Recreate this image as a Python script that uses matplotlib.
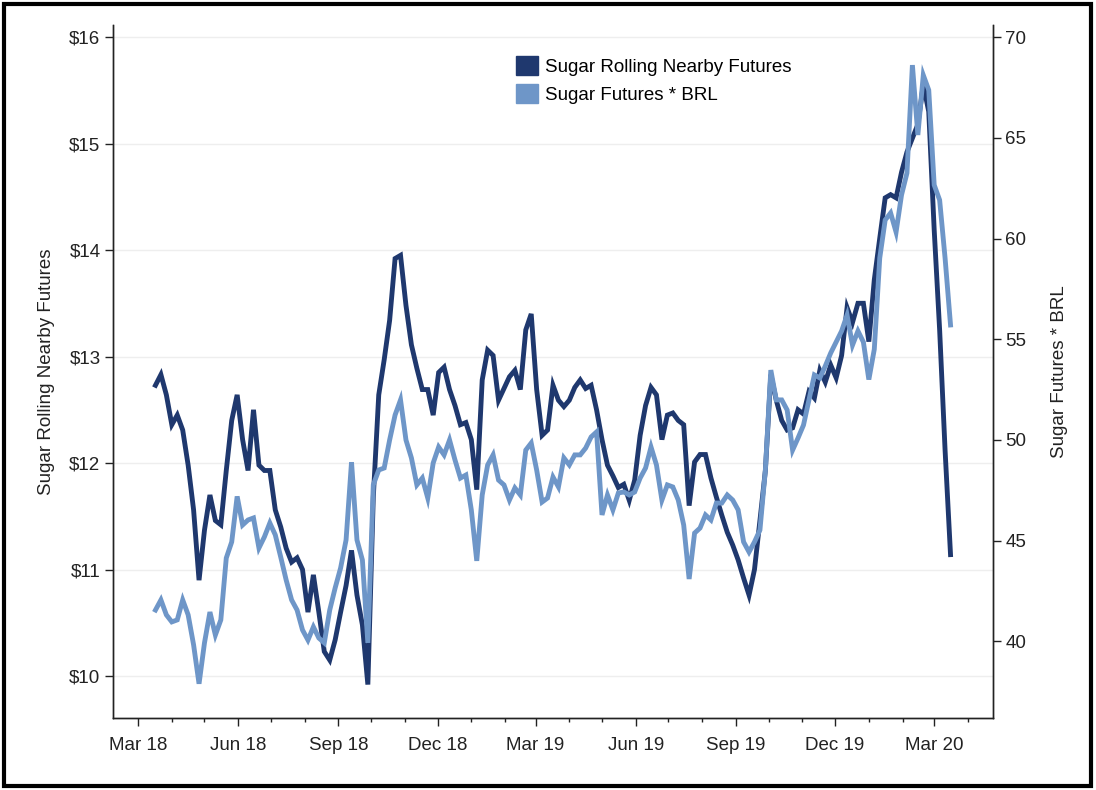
import matplotlib.pyplot as plt
import matplotlib.dates as mdates
from matplotlib.patches import Patch, Rectangle
from matplotlib.ticker import FuncFormatter, MultipleLocator
import pandas as pd

plt.rcParams['font.family'] = ['Liberation Sans', 'DejaVu Sans']

# 5-day sampling of the two series
dates = pd.date_range('2018-03-17', periods=147, freq='5D')

sugar_nearby = [
    12.73, 12.83, 12.64, 12.36, 12.45, 12.31, 11.98, 11.56, 10.90, 11.37,
    11.70, 11.46, 11.42, 11.93, 12.40, 12.64, 12.22, 11.93, 12.50, 11.98,
    11.93, 11.93, 11.56, 11.40, 11.20, 11.07, 11.11, 11.00, 10.60, 10.95,
    10.60, 10.23, 10.15, 10.34, 10.60, 10.85, 11.18, 10.76, 10.48, 9.92,
    11.68, 12.64, 12.97, 13.34, 13.92, 13.95, 13.48, 13.11, 12.89, 12.69,
    12.69, 12.45, 12.85, 12.90, 12.69, 12.54, 12.36, 12.38, 12.22, 11.75,
    12.78, 13.06, 13.01, 12.59, 12.70, 12.81, 12.87, 12.69, 13.25, 13.40,
    12.69, 12.26, 12.31, 12.73, 12.59, 12.53, 12.59, 12.71, 12.78, 12.70,
    12.73, 12.50, 12.22, 11.98, 11.88, 11.77, 11.80, 11.65, 11.84, 12.26,
    12.54, 12.71, 12.64, 12.22, 12.45, 12.47, 12.40, 12.36, 11.60, 12.01,
    12.08, 12.08, 11.86, 11.68, 11.51, 11.35, 11.23, 11.09, 10.92, 10.76,
    11.00, 11.46, 11.93, 12.83, 12.59, 12.40, 12.31, 12.33, 12.50, 12.46,
    12.67, 12.61, 12.87, 12.76, 12.92, 12.80, 13.01, 13.46, 13.32, 13.50,
    13.50, 13.14, 13.72, 14.11, 14.49, 14.52, 14.49, 14.73, 14.92, 15.05,
    15.18, 15.55, 15.30, 14.19, 13.25, 12.12, 11.14,
]

sugar_brl = [
    41.56, 42.06, 41.32, 40.97, 41.07, 42.06, 41.32, 39.83, 37.90, 39.93,
    41.46, 40.32, 41.07, 44.14, 44.94, 47.20, 45.78, 46.03, 46.13, 44.64,
    45.19, 45.88, 45.29, 44.19, 43.05, 42.06, 41.56, 40.57, 40.07, 40.72,
    40.17, 39.93, 41.56, 42.66, 43.65, 45.04, 48.90, 45.04, 44.04, 39.93,
    47.77, 48.51, 48.61, 50.00, 51.24, 51.99, 50.00, 49.11, 47.77, 48.11,
    47.12, 48.86, 49.65, 49.26, 50.00, 49.01, 48.11, 48.26, 46.53, 44.00,
    47.27, 48.76, 49.26, 48.01, 47.77, 47.02, 47.62, 47.27, 49.50, 49.85,
    48.51, 46.92, 47.12, 48.16, 47.67, 49.11, 48.76, 49.26, 49.26, 49.60,
    50.15, 50.40, 46.28, 47.27, 46.53, 47.37, 47.42, 47.27, 47.42, 48.11,
    48.61, 49.65, 48.76, 47.02, 47.77, 47.67, 47.02, 45.78, 43.10, 45.38,
    45.63, 46.28, 46.03, 46.87, 46.87, 47.27, 47.02, 46.53, 44.94, 44.44,
    44.94, 45.53, 48.51, 53.47, 51.99, 51.99, 51.49, 49.50, 50.10, 50.74,
    51.99, 53.23, 53.08, 53.67, 54.32, 54.86, 55.41, 56.20, 54.71, 55.41,
    54.86, 53.00, 54.50, 59.03, 60.92, 61.27, 60.32, 62.16, 63.25, 68.61,
    65.14, 68.11, 67.37, 62.66, 61.91, 59.03, 55.71,
]

dark = '#1f386e'
light = '#6e96c8'
fs = 13.5

fig = plt.figure(figsize=(10.96, 7.9), dpi=100)
ax = fig.add_axes([113 / 1096, 1 - 718 / 790, 880 / 1096, 693 / 790])
ax2 = ax.twinx()

ax.plot(dates, sugar_nearby, color=dark, lw=3.5, solid_joinstyle='miter')
ax2.plot(dates, sugar_brl, color=light, lw=3.5, solid_joinstyle='miter')

ax.set_xlim(pd.Timestamp('2018-02-06'), pd.Timestamp('2020-04-24'))
ax.set_ylim(9.606, 16.113)
ax2.set_ylim(36.2, 70.6)

ax.xaxis.set_major_locator(mdates.MonthLocator(bymonth=[3, 6, 9, 12]))
ax.xaxis.set_minor_locator(mdates.MonthLocator())
ax.xaxis.set_major_formatter(mdates.DateFormatter('%b %y'))
ax.yaxis.set_major_locator(MultipleLocator(1))
ax.yaxis.set_major_formatter(FuncFormatter(lambda v, p: '${:.0f}'.format(v)))
ax2.yaxis.set_major_locator(MultipleLocator(5))

ax.grid(axis='y', color='#eeeeee', lw=1)
ax.set_axisbelow(True)

for a in (ax, ax2):
    a.spines['top'].set_visible(False)
    for s in ('left', 'right', 'bottom'):
        a.spines[s].set_color('#222222')
        a.spines[s].set_linewidth(1.0)
    a.tick_params(axis='both', which='major', length=6, width=1, color='#222222',
                  labelsize=fs, labelcolor='#222222', pad=3)
    a.tick_params(axis='x', which='minor', length=3, width=1, color='#222222')
ax.tick_params(axis='x', which='major', pad=8)

ax.set_ylabel('Sugar Rolling Nearby Futures', fontsize=fs, color='#222222', labelpad=10)
ax2.set_ylabel('Sugar Futures * BRL', fontsize=fs, color='#222222', labelpad=18)

handles = [Patch(color=dark), Patch(color=light)]
ax2.legend(handles, ['Sugar Rolling Nearby Futures', 'Sugar Futures * BRL'],
           loc='upper left', bbox_to_anchor=(516 / 1096, 1 - 56 / 790),
           bbox_transform=fig.transFigure, frameon=False, fontsize=fs,
           handlelength=1.15, handleheight=1.15, handletextpad=0.4,
           labelspacing=0.45, borderpad=0, borderaxespad=0)

fig.patches.append(Rectangle((0.004, 0.005), 0.991, 0.99, transform=fig.transFigure,
                             fill=False, edgecolor='black', lw=3))

fig.savefig('out.png', dpi=100)
